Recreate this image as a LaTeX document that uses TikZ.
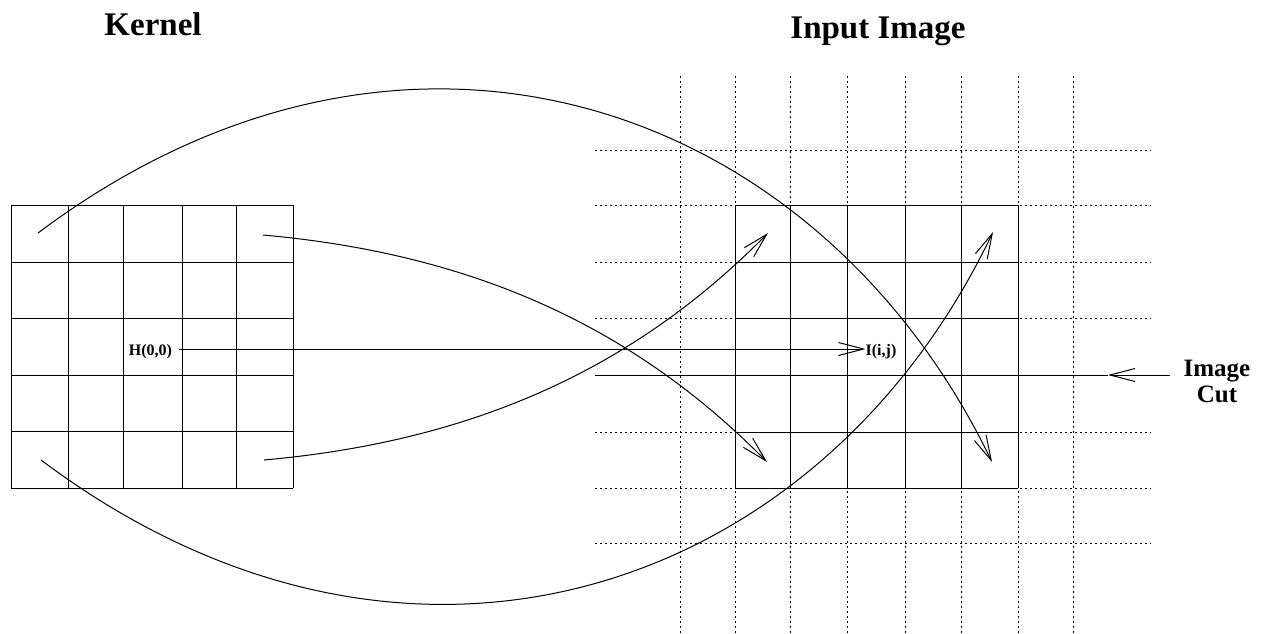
\documentclass[tikz,border=0pt]{standalone}
\usepackage{fontspec}
\setmainfont{Liberation Serif}
\usetikzlibrary{arrows.meta}
\begin{document}
\begin{tikzpicture}[x=1pt,y=-1pt,
  conn/.style={line width=1pt,-{Straight Barb[length=25pt,width=13pt,line width=1pt]}},
  plainline/.style={line width=1pt},
  cellgrid/.style={line width=1pt},
  dotgrid/.style={line width=0.9pt,dash pattern=on 1.5pt off 3.5pt},
  lbl/.style={font=\bfseries\fontsize{16}{18}\selectfont,inner sep=0pt,anchor=base,text height=13pt,text depth=0pt},
  cutlbl/.style={font=\bfseries\fontsize{25}{27}\selectfont,inner sep=0pt,anchor=base},
  title/.style={font=\bfseries\fontsize{33}{38}\selectfont,inner sep=0pt,anchor=base}]
\useasboundingbox (0,0) rectangle (1272,633);

% titles
\node[title] (ktitle) at (153,35) {Kernel};
\node[title] (ititle) at (878,38) {Input Image};

% kernel grid
\foreach \x in {11,68,123,182,236,293} \draw[cellgrid] (\x,205) -- (\x,488);
\foreach \y in {205,262,318,375,431,488} \draw[cellgrid] (11,\y) -- (293,\y);

% input image dotted grid
\foreach \x in {680,735,790,847,905,961,1018,1073} \draw[dotgrid] (\x,76) -- (\x,633);
\foreach \y in {150,205,262,318,375,432,488,543} \draw[dotgrid] (595,\y) -- (1151,\y);

% image window (solid)
\foreach \x in {735,790,847,905,961,1018} \draw[cellgrid] (\x,205) -- (\x,488);
\foreach \y in {205,262,318,375,432,488} \draw[cellgrid] (735,\y) -- (1018,\y);

% labels
\node[lbl] (H) at (150.5,355.5) {H(0,0)};
\node[lbl] (I) at (881,355.5) {I(i,j)};
\node[cutlbl] (cut1) at (1217,376) {Image};
\node[cutlbl] (cut2) at (1217,402) {Cut};

% connector end points
\coordinate (k1) at (38,233);  \coordinate (t1) at (992,462);
\coordinate (k2) at (41,460);  \coordinate (t2) at (993,232);
\coordinate (k3) at (263,235); \coordinate (t3) at (767,462);
\coordinate (k4) at (264,460); \coordinate (t4) at (768,233);
\coordinate (cutR) at (1170,375);
\coordinate (cutTip) at (1108,375);
\coordinate (cutL) at (595,375);

% connectors
\draw[conn] (k1) .. controls (406,-43) and (818,102) .. (t1);
\draw[conn] (k2) .. controls (409,736) and (821,592) .. (t2);
\draw[conn] (k3) .. controls (463,253) and (627,320) .. (t3);
\draw[conn] (k4) .. controls (464,442) and (628,375) .. (t4);
\draw[conn] ([xshift=7pt]H.east) -- (I.west);
\draw[conn] (cutR) -- (cutTip);
\draw[plainline] (cutTip) -- (cutL);
\end{tikzpicture}
\end{document}
